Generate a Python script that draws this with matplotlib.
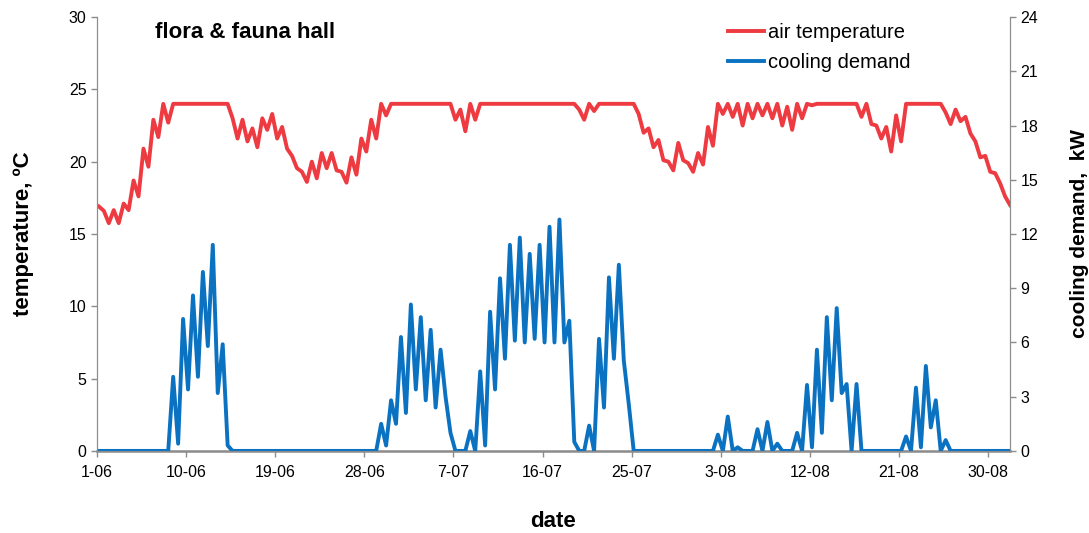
import numpy as np
import matplotlib.pyplot as plt

plt.rcParams['font.family'] = ['Liberation Sans', 'DejaVu Sans']

# half-day samples (early morning / afternoon), starting 1 June 05:00
air_temp = ([16.9, 16.6, 15.75, 16.65, 15.75, 17.1, 16.65, 18.7, 17.6, 20.9,
             19.65, 22.9, 21.7, 24.0, 22.7, 24.0]
            + [24.0] * 11
            + [23.0, 21.6, 22.9, 21.4, 22.3, 21.0, 23.0, 22.2, 23.3, 21.6,
               22.4, 20.9, 20.4, 19.55, 19.3, 18.6, 20.0, 18.85, 20.6, 19.55,
               20.6, 19.4, 19.3, 18.55, 20.3, 19.1, 21.6, 20.7, 22.9, 21.6,
               24.0, 23.2]
            + [24.0] * 13
            + [22.9, 23.6, 22.1, 24.0, 22.9]
            + [24.0] * 20
            + [23.6, 22.9, 24.0, 23.5]
            + [24.0] * 8
            + [23.3, 22.0, 22.3, 21.0, 21.5, 20.1, 20.0, 19.4, 21.3, 20.1,
               19.9, 19.3, 20.6, 19.8, 22.4, 21.1, 24.0, 23.3, 24.0, 23.1,
               24.0, 22.5, 24.0, 23.0, 24.0, 23.2, 24.0, 23.0, 24.0, 22.5,
               23.8, 22.2, 24.0, 23.0, 24.0, 23.9]
            + [24.0] * 9
            + [23.1, 24.0, 22.6, 22.5, 21.6, 22.4, 20.7, 23.2, 21.4]
            + [24.0] * 8
            + [23.4, 22.6, 23.6, 22.8, 23.1, 21.95, 21.4, 20.3, 20.4, 19.3,
               19.2, 18.5, 17.6, 17.0])

cooling_kw = ([0.0] * 15
              + [4.1, 0.4, 7.3, 3.4, 8.6, 4.1, 9.9, 5.8, 11.4, 3.2, 5.9, 0.3]
              + [0.0] * 30
              + [1.5, 0.3, 2.8, 1.5, 6.3, 2.1, 8.1, 3.4, 7.4, 2.8, 6.7, 2.4,
                 5.6, 3.0, 1.0]
              + [0.0] * 3
              + [1.1, 0.0, 4.4, 0.3, 7.7, 3.4, 9.55, 5.1, 11.4, 6.1, 11.8,
                 6.0, 10.9, 6.2, 11.4, 6.0, 12.4, 6.0, 12.8, 6.0, 7.2, 0.5]
              + [0.0] * 2
              + [1.4, 0.0, 6.2, 2.4, 9.6, 5.1, 10.3, 5.0, 2.6]
              + [0.0] * 17
              + [0.9, 0.0, 1.9, 0.0, 0.2, 0.0, 0.0, 0.0, 1.2, 0.0, 1.6, 0.0,
                 0.4, 0.0, 0.0, 0.0, 1.0, 0.0, 3.65, 0.2, 5.6, 1.0, 7.4, 2.8,
                 7.9, 3.2, 3.7, 0.0, 3.7]
              + [0.0] * 9
              + [0.8, 0.0, 3.5, 0.2, 4.7, 1.3, 2.8, 0.0, 0.6]
              + [0.0] * 13)

tick_days = [0, 9, 18, 27, 36, 45, 54, 63, 72, 81, 90]
tick_labels = ['1-06', '10-06', '19-06', '28-06', '7-07', '16-07', '25-07',
               '3-08', '12-08', '21-08', '30-08']

t = 0.2 + 0.5 * np.arange(len(air_temp))

fig = plt.figure(figsize=(10.89, 5.33), dpi=100)
ax = fig.add_axes([0.089, 0.154, 0.8385, 0.814])
ax2 = ax.twinx()

l1, = ax.plot(t, air_temp, color='#EE3A41', lw=2.8, solid_joinstyle='round',
              label='air temperature')
l2, = ax2.plot(t, cooling_kw, color='#0B72C2', lw=2.8, solid_joinstyle='round',
               label='cooling demand')

ax.set_xlim(0, 92.2)
ax.set_ylim(0, 30)
ax2.set_ylim(0, 24)
ax.set_yticks(range(0, 31, 5))
ax2.set_yticks(range(0, 25, 3))
ax.set_xticks(tick_days)
ax.set_xticklabels(tick_labels)

gray = '#8c8c8c'
for a in (ax, ax2):
    a.spines['top'].set_visible(False)
    for s in ('left', 'right', 'bottom'):
        a.spines[s].set_color(gray)
    a.tick_params(colors=gray, labelcolor='black', labelsize=11.5, length=4, width=1)
ax.spines['bottom'].set_linewidth(1.8)
ax.tick_params(axis='x', pad=6)

ax.set_ylabel('temperature, ºC', fontsize=16, fontweight='bold')
ax.yaxis.set_label_coords(-0.069, 0.5)
ax2.set_ylabel('cooling demand,  kW', fontsize=15, fontweight='bold')
ax2.yaxis.set_label_coords(1.066, 0.5)
ax.set_xlabel('date', fontsize=16, fontweight='bold')
ax.xaxis.set_label_coords(0.5, -0.138)

fig.text(155 / 1089, 1 - 33 / 533, 'flora & fauna hall', fontsize=16,
         fontweight='bold', va='center')

fig.legend([l1, l2], ['air temperature', 'cooling demand'], loc='upper left',
           bbox_to_anchor=(718 / 1089, 1 - 13 / 533), frameon=False,
           fontsize=14.5, handlelength=1.8, handletextpad=0.2,
           labelspacing=0.55, borderpad=0)

fig.savefig('out.png', dpi=100)
